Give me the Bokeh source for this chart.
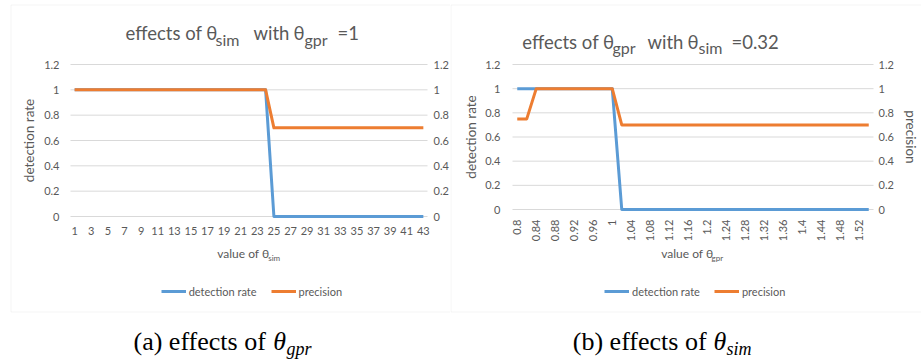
import math
from bokeh.plotting import figure
from bokeh.models import (Range1d, LinearAxis, FixedTicker, NumeralTickFormatter,
                          Label, Legend, LegendItem, BoxAnnotation)
from bokeh.layouts import row
from bokeh.embed import file_html
from bokeh.resources import INLINE

# ---------------- data ----------------
sim_values = [1, 2, 3, 4, 5, 6, 7, 8, 9, 10, 11, 12, 13, 14, 15, 16, 17, 18, 19, 20,
              21, 22, 23, 24, 25, 26, 27, 28, 29, 30, 31, 32, 33, 34, 35, 36, 37, 38,
              39, 40, 41, 42, 43]
sim_detection = [1, 1, 1, 1, 1, 1, 1, 1, 1, 1, 1, 1, 1, 1, 1, 1, 1, 1, 1, 1,
                 1, 1, 1, 1, 0, 0, 0, 0, 0, 0, 0, 0, 0, 0, 0, 0, 0, 0,
                 0, 0, 0, 0, 0]
sim_precision = [1, 1, 1, 1, 1, 1, 1, 1, 1, 1, 1, 1, 1, 1, 1, 1, 1, 1, 1, 1,
                 1, 1, 1, 1, 0.7, 0.7, 0.7, 0.7, 0.7, 0.7, 0.7, 0.7, 0.7, 0.7, 0.7,
                 0.7, 0.7, 0.7, 0.7, 0.7, 0.7, 0.7, 0.7]

gpr_labels = ["0.8", "0.82", "0.84", "0.86", "0.88", "0.9", "0.92", "0.94", "0.96",
              "0.98", "1", "1.02", "1.04", "1.06", "1.08", "1.1", "1.12", "1.14",
              "1.16", "1.18", "1.2", "1.22", "1.24", "1.26", "1.28", "1.3", "1.32",
              "1.34", "1.36", "1.38", "1.4", "1.42", "1.44", "1.46", "1.48", "1.5",
              "1.52", "1.54"]
gpr_detection = [1, 1, 1, 1, 1, 1, 1, 1, 1, 1, 1, 0, 0, 0, 0, 0, 0, 0, 0, 0,
                 0, 0, 0, 0, 0, 0, 0, 0, 0, 0, 0, 0, 0, 0, 0, 0, 0, 0]
gpr_precision = [0.75, 0.75, 1, 1, 1, 1, 1, 1, 1, 1, 1, 0.7, 0.7, 0.7, 0.7, 0.7,
                 0.7, 0.7, 0.7, 0.7, 0.7, 0.7, 0.7, 0.7, 0.7, 0.7, 0.7, 0.7, 0.7,
                 0.7, 0.7, 0.7, 0.7, 0.7, 0.7, 0.7, 0.7, 0.7]

y_ticks = [0, 0.2, 0.4, 0.6, 0.8, 1, 1.2]
series_names = ["detection rate", "precision"]

# ---------------- style ----------------
BLUE = "#5B9BD5"
ORANGE = "#ED7D31"
TXT = "#595959"
GRID = "#D9D9D9"
FONT = "Lato"
SERIF = "Liberation Serif"
MID = {FONT: 0.387, SERIF: 0.3375}   # baseline -> middle offset (fraction of size)
H = 360
Y_MAX = 1.2
T_MAIN, T_SUB = 18.5, 16


def make_fig(px0, width, x_lo, x_hi, fl, fr, ft, fb):
    """Canvas whose frame is the whole canvas; default ranges are page pixels,
    'dx'/'dy'/'prec' ranges place the data in the plot area fl..fr, ft..fb."""
    p = figure(width=width, height=H, output_backend="svg", toolbar_location=None,
               x_range=Range1d(px0, px0 + width), y_range=Range1d(H, 0),
               x_axis_type=None, y_axis_type=None, title=None,
               min_border=0, min_border_left=0, min_border_right=0,
               min_border_top=0, min_border_bottom=0)
    kx = (x_hi - x_lo) / (fr - fl)
    ky = Y_MAX / (fb - ft)
    p.extra_x_ranges = {"dx": Range1d(x_lo + (px0 - fl) * kx,
                                      x_lo + (px0 + width - fl) * kx)}
    p.extra_y_ranges = {"dy": Range1d((fb - H) * ky, fb * ky),
                        "prec": Range1d((fb - H) * ky, fb * ky)}
    p.outline_line_color = None
    p.background_fill_color = "white"
    p.border_fill_color = "white"
    # horizontal gridlines over the plot area
    p.segment(x0=[x_lo] * len(y_ticks), x1=[x_hi] * len(y_ticks), y0=y_ticks,
              y1=y_ticks, x_range_name="dx", y_range_name="dy",
              line_color=GRID, line_width=1)
    return p


def style_y(ax, standoff, label_standoff):
    ax.ticker = FixedTicker(ticks=y_ticks)
    ax.formatter = NumeralTickFormatter(format="0.[0]")
    ax.axis_line_color = None
    ax.major_tick_line_color = None
    ax.minor_tick_line_color = None
    ax.major_tick_out = 0
    ax.major_tick_in = 0
    ax.minor_tick_out = 0
    ax.major_label_text_font = FONT
    ax.major_label_text_font_size = "11px"
    ax.major_label_text_color = TXT
    ax.major_label_standoff = standoff
    ax.axis_label_text_font = FONT
    ax.axis_label_text_font_size = "13.5px"
    ax.axis_label_text_font_style = "normal"
    ax.axis_label_text_color = TXT
    ax.axis_label_standoff = label_standoff


def style_x(ax, ticks, standoff):
    ax.ticker = FixedTicker(ticks=ticks)
    ax.axis_line_color = None
    ax.major_tick_line_color = None
    ax.minor_tick_line_color = None
    ax.major_tick_out = 0
    ax.major_tick_in = 0
    ax.minor_tick_out = 0
    ax.major_label_text_font = FONT
    ax.major_label_text_font_size = "11px"
    ax.major_label_text_color = TXT
    ax.major_label_standoff = standoff


def add_axes(p, x_lo, x_hi, x_ticks, xs_off, yl_off, yl_lab, yr_off, yr_lab, right_title):
    xa = LinearAxis(x_range_name="dx", y_range_name="dy", fixed_location=0,
                    bounds=(x_lo, x_hi))
    style_x(xa, x_ticks, xs_off)
    p.add_layout(xa, "below")
    ya = LinearAxis(x_range_name="dx", y_range_name="dy", fixed_location=x_lo,
                    bounds=(0, Y_MAX), axis_label=series_names[0])
    style_y(ya, yl_off, yl_lab)
    p.add_layout(ya, "left")
    yr = LinearAxis(x_range_name="dx", y_range_name="prec", fixed_location=x_hi,
                    bounds=(0, Y_MAX), axis_label=right_title)
    style_y(yr, yr_off, yr_lab)
    p.add_layout(yr, "right")
    return xa


def add_lines(p, xs, det, prec, legend_loc):
    r1 = p.line(xs, det, line_color=BLUE, line_width=3, line_join="round",
                x_range_name="dx", y_range_name="dy")
    r2 = p.line(xs, prec, line_color=ORANGE, line_width=3, line_join="round",
                x_range_name="dx", y_range_name="prec")
    lg = Legend(items=[LegendItem(label=series_names[0], renderers=[r1]),
                       LegendItem(label=series_names[1], renderers=[r2])],
                location=legend_loc, orientation="horizontal",
                padding=0, margin=0, spacing=14, glyph_width=25, glyph_height=20,
                label_height=20, label_standoff=3, label_text_font=FONT,
                label_text_font_size="11px", label_text_color=TXT,
                border_line_color=None, background_fill_alpha=0)
    p.add_layout(lg)


def add_text(p, txt, px, baseline, size, color=TXT, font=FONT, style="normal"):
    p.add_layout(Label(x=px, y=baseline - MID[font] * size, text=txt, text_font=font,
                       text_font_size=f"{size}px", text_color=color,
                       text_font_style=style, text_align="left",
                       text_baseline="middle"))


# ---------------- chart (a) : page x 0..450 ----------------
s_lo, s_hi = sim_values[0] - 0.5, sim_values[-1] + 0.5
p1 = make_fig(0, 450, s_lo, s_hi, 70, 427, 64, 216)
add_axes(p1, s_lo, s_hi, sim_values[::2], 10, 11, 4, 6, 4, None)
add_lines(p1, sim_values, sim_detection, sim_precision, (160.7, 59))
p1.add_layout(BoxAnnotation(left=10.5, right=470, top=4.5, bottom=311.5,
                            fill_alpha=0, line_color=GRID, line_width=1))
add_text(p1, "effects of θ", 125, 39.5, T_MAIN)
add_text(p1, "sim", 215, 45, T_SUB)
add_text(p1, "with", 253, 39.5, T_MAIN)
add_text(p1, "θ", 293, 39.5, T_MAIN)
add_text(p1, "gpr", 304, 45, T_SUB)
add_text(p1, "=1", 337, 39.5, T_MAIN)
add_text(p1, "value of θ", 216.7, 258, 12)
add_text(p1, "sim", 267.7, 260.5, 8)
add_text(p1, "(a) effects of ", 133, 350, 26, color="black", font=SERIF)
add_text(p1, "θ", 272.7, 350, 26, color="black", font=SERIF, style="italic")
add_text(p1, "gpr", 286, 355, 18, color="black", font=SERIF, style="italic")

# ---------------- chart (b) : page x 450..921 ----------------
gpr_index = list(range(len(gpr_labels)))
g_lo, g_hi = gpr_index[0] - 0.5, gpr_index[-1] + 0.5
p2 = make_fig(450, 471, g_lo, g_hi, 512, 873, 64, 209)
xa2 = add_axes(p2, g_lo, g_hi, gpr_index[::2], 10, 12, 3, 5, 6, series_names[1])
xa2.major_label_overrides = {i: gpr_labels[i] for i in gpr_index[::2]}
xa2.major_label_orientation = math.pi / 2
add_lines(p2, gpr_index, gpr_detection, gpr_precision, (154, 59))
p2.add_layout(BoxAnnotation(left=450.5, right=960, top=4.5, bottom=311.5,
                            fill_alpha=0, line_color=GRID, line_width=1))
add_text(p2, "effects of θ", 521.7, 48.5, T_MAIN)
add_text(p2, "gpr", 612, 53.5, T_SUB)
add_text(p2, "with", 647, 48.5, T_MAIN)
add_text(p2, "θ", 687, 48.5, T_MAIN)
add_text(p2, "sim", 698, 53.5, T_SUB)
add_text(p2, "=0.32", 731, 48.5, T_MAIN)
add_text(p2, "value of θ", 660.7, 258, 12)
add_text(p2, "gpr", 711, 260.5, 8)
add_text(p2, "(b) effects of ", 572.3, 350, 26, color="black", font=SERIF)
add_text(p2, "θ", 713, 350, 26, color="black", font=SERIF, style="italic")
add_text(p2, "sim", 726, 355, 18, color="black", font=SERIF, style="italic")

layout = row(p1, p2)
open("out.html", "w").write(file_html(layout, INLINE))
